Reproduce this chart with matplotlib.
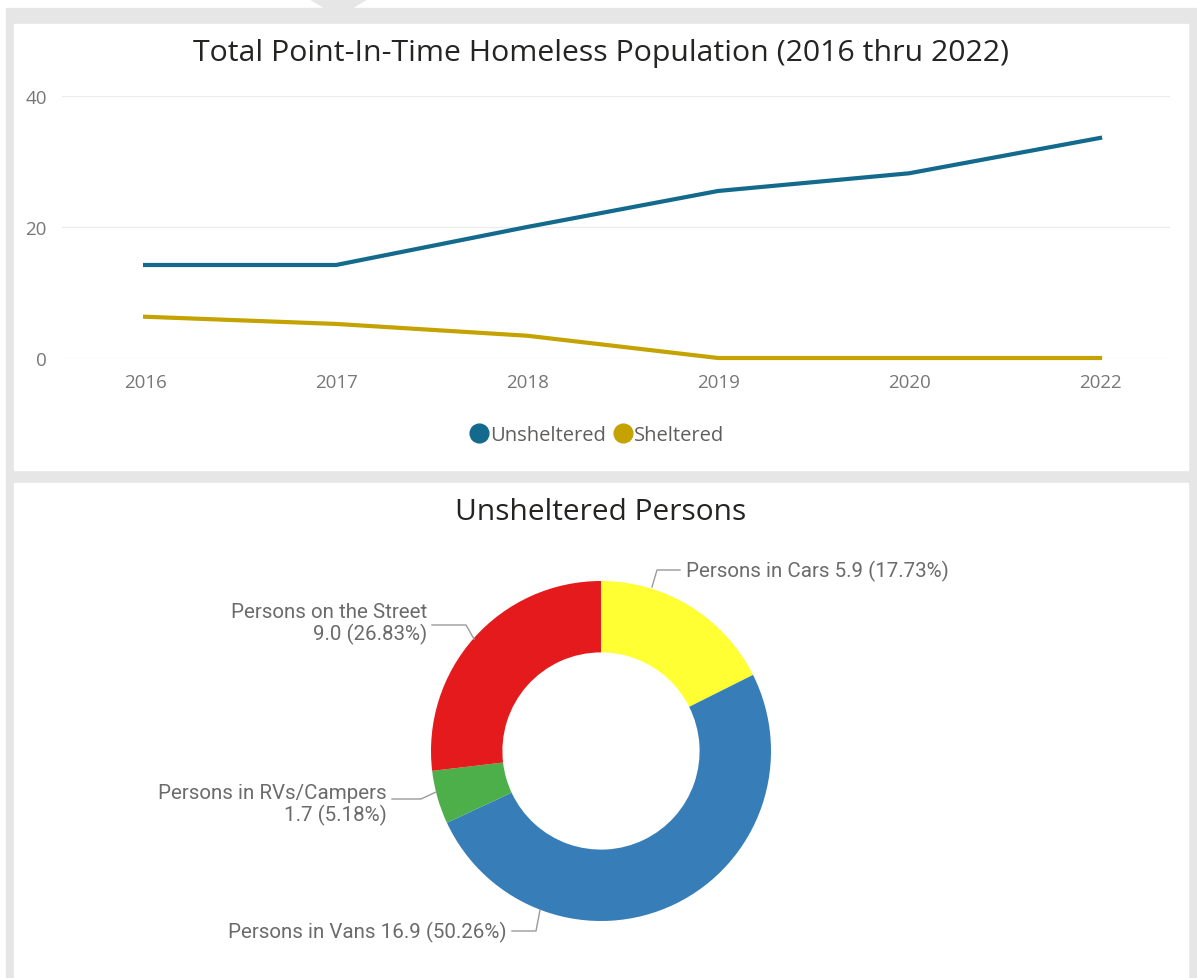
import numpy as np
import matplotlib
matplotlib.use("Agg")
import matplotlib.pyplot as plt
from matplotlib.patches import Rectangle, Polygon
from matplotlib.lines import Line2D

# ---- data ----
years = ["2016", "2017", "2018", "2019", "2020", "2022"]
unsheltered = [14.2, 14.2, 20.0, 25.5, 28.2, 33.6]
sheltered = [6.3, 5.2, 3.4, 0.0, 0.0, 0.0]

categories = ["Persons in Cars", "Persons in Vans", "Persons in RVs/Campers", "Persons on the Street"]
counts = [5.9, 16.9, 1.7, 9.0]
shares = [17.73, 50.26, 5.18, 26.83]

# ---- style ----
W, H = 1197, 979
BG = "#e6e6e6"
C_UNSH = "#136a8c"
C_SH = "#c4a300"
PIE_COLORS = ["#ffff33", "#377eb8", "#4daf4a", "#e41a1c"]
TITLE_FONT = ["Open Sans", "DejaVu Sans"]
LABEL_FONT = ["Roboto", "DejaVu Sans"]


def fx(px):
    return px / W


def fy(py):
    return 1 - py / H


fig = plt.figure(figsize=(W / 100, H / 100), dpi=100, facecolor="white")

# background panels
fig.patches.append(Rectangle((fx(6), 0), 1 - fx(6), fy(9),
                             transform=fig.transFigure, color=BG, zorder=-10))
fig.patches.append(Polygon([(fx(310), 1), (fx(367), 1), (fx(352), fy(9)), (fx(325), fy(9))],
                           closed=True, transform=fig.transFigure, color=BG, zorder=-10))
fig.patches.append(Rectangle((fx(14), fy(471)), fx(1188 - 14), fy(25) - fy(471),
                             transform=fig.transFigure, color="white", zorder=-9))
fig.patches.append(Rectangle((fx(14), 0), fx(1188 - 14), fy(484),
                             transform=fig.transFigure, color="white", zorder=-9))

# ---- line chart ----
ax = fig.add_axes([fx(62), fy(359), fx(1170 - 62), fy(97) - fy(359)])
x = np.arange(len(years))
ax.plot(x, unsheltered, color=C_UNSH, lw=3, clip_on=False, solid_joinstyle="round")
ax.plot(x, sheltered, color=C_SH, lw=3, clip_on=False, solid_joinstyle="round")
ax.set_xlim(-0.435, 5.366)
ax.set_ylim(0, 40)
ax.set_yticks([0, 20, 40])
ax.set_xticks(x)
ax.set_xticklabels(years)
ax.grid(axis="y", color="#ececec", lw=1)
ax.set_axisbelow(True)
for s in ax.spines.values():
    s.set_visible(False)
ax.tick_params(length=0, colors="#777777", labelsize=13.5)
ax.tick_params(axis="x", pad=11)
ax.tick_params(axis="y", pad=11)
for lab in ax.get_xticklabels() + ax.get_yticklabels():
    lab.set_family(TITLE_FONT)
ax.patch.set_alpha(0)

fig.text(fx(601), fy(53), "Total Point-In-Time Homeless Population (2016 thru 2022)",
         ha="center", va="center", fontsize=21.8, color="#252423", family=TITLE_FONT)

handles = [Line2D([], [], ls="", marker="o", ms=13.5, color=C_UNSH),
           Line2D([], [], ls="", marker="o", ms=13.5, color=C_SH)]
leg = fig.legend(handles, ["Unsheltered", "Sheltered"], loc="center",
                 bbox_to_anchor=(fx(596), fy(436)), ncol=2, frameon=False,
                 handletextpad=0.0, columnspacing=0.3, handlelength=1.1,
                 prop={"family": TITLE_FONT, "size": 14.5})
for t in leg.get_texts():
    t.set_color("#605e5c")

# ---- donut ----
fig.text(fx(601), fy(512), "Unsheltered Persons", ha="center", va="center",
         fontsize=21.5, color="#252423", family=TITLE_FONT)

R = 170
pax = fig.add_axes([fx(601 - R), fy(752 + R), fx(2 * R), fy(752 - R) - fy(752 + R)])
pax.pie(counts, colors=PIE_COLORS, startangle=90, counterclock=False,
        wedgeprops=dict(width=0.42, linewidth=0))
pax.set_xlim(-1, 1)
pax.set_ylim(-1, 1)
pax.set_aspect("auto")
pax.axis("off")


def to_d(px, py):
    return (px - 601) / R, (752 - py) / R


labels = [f"{c} {v:.1f} ({p:.2f}%)" for c, v, p in zip(categories, counts, shares)]
# (leader points in pixels, text anchor, text, ha)
leaders = [
    ([(652, 588), (657, 571), (680, 571)], (686, 571), labels[0], "left"),
    ([(540, 911), (536, 932), (512, 932)], (507, 932), labels[1], "right"),
    ([(436, 793), (421, 800), (392, 800)], (387, 805),
     f"{categories[2]}\n{counts[2]:.1f} ({shares[2]:.2f}%)", "right"),
    ([(474, 640), (466, 626), (432, 626)], (427, 624),
     f"{categories[3]}\n{counts[3]:.1f} ({shares[3]:.2f}%)", "right"),
]
for pts, tpos, txt, ha in leaders:
    d = [to_d(*p) for p in pts]
    pax.plot([p[0] for p in d], [p[1] for p in d], color="#9a9a9a", lw=1, clip_on=False)
    tx, ty = to_d(*tpos)
    pax.text(tx, ty, txt, ha=ha, va="center", multialignment="right",
             fontsize=14.8, color="#6b6b6b", family=LABEL_FONT, linespacing=1.15)

fig.savefig("out.png", dpi=100, facecolor=fig.get_facecolor())
